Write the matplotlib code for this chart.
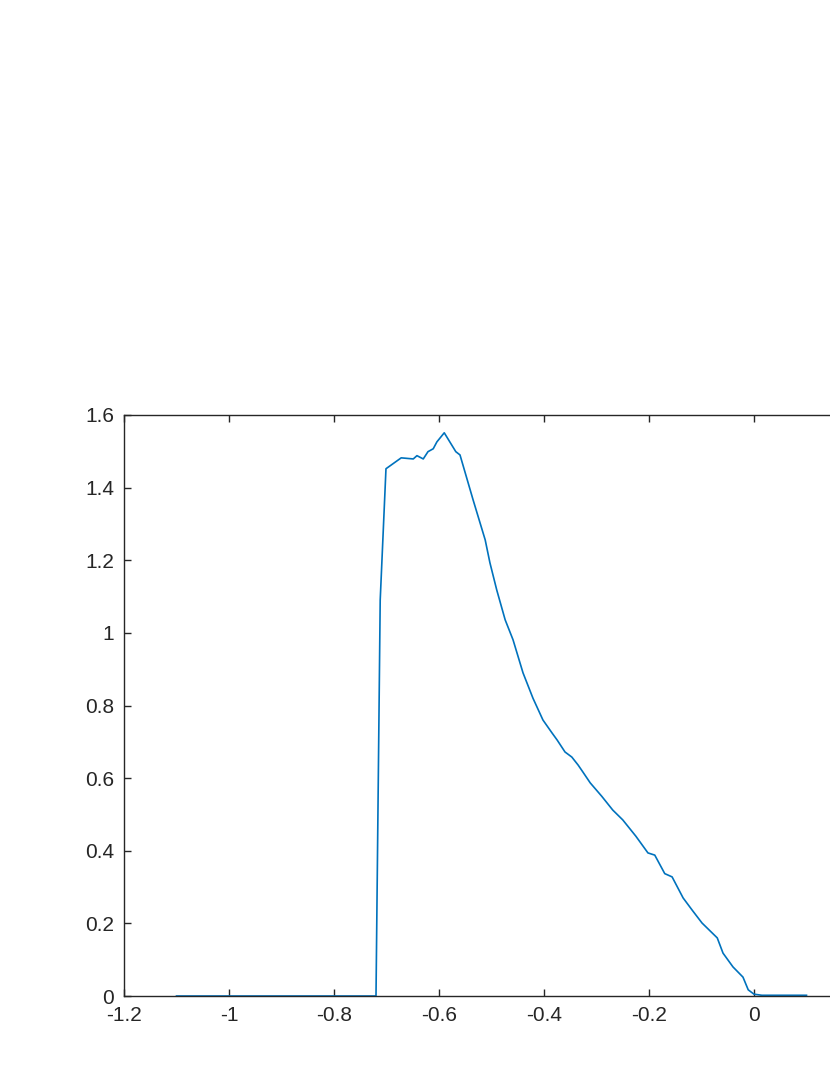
import matplotlib
matplotlib.use("Agg")
import matplotlib.pyplot as plt

plt.rcParams['font.family'] = ['Liberation Sans', 'DejaVu Sans']

x_vals = [-1.1, -0.8, -0.72, -0.712, -0.701, -0.672, -0.649, -0.642, -0.630, -0.621,
          -0.611, -0.604, -0.590, -0.568, -0.560, -0.535, -0.512, -0.503, -0.490,
          -0.474, -0.459, -0.440, -0.421, -0.402, -0.385, -0.375, -0.360, -0.347,
          -0.335, -0.326, -0.312, -0.290, -0.269, -0.250, -0.225, -0.202, -0.189,
          -0.170, -0.156, -0.135, -0.117, -0.099, -0.070, -0.059, -0.040, -0.021,
          -0.011, 0.0, 0.015, 0.1]
y_vals = [0.0, 0.0, 0.0, 1.09, 1.452, 1.482, 1.479, 1.488, 1.479, 1.499,
          1.507, 1.526, 1.551, 1.499, 1.490, 1.366, 1.256, 1.193, 1.118,
          1.036, 0.981, 0.890, 0.820, 0.760, 0.725, 0.705, 0.672, 0.658,
          0.636, 0.617, 0.587, 0.550, 0.512, 0.485, 0.440, 0.394, 0.388,
          0.337, 0.328, 0.270, 0.235, 0.201, 0.160, 0.118, 0.080, 0.052,
          0.017, 0.005, 0.002, 0.002]

x_ticks = [-1.2, -1.0, -0.8, -0.6, -0.4, -0.2, 0.0]
x_tick_labels = ['-1.2', '-1', '-0.8', '-0.6', '-0.4', '-0.2', '0']
y_ticks = [0, 0.2, 0.4, 0.6, 0.8, 1.0, 1.2, 1.4, 1.6]
y_tick_labels = ['0', '0.2', '0.4', '0.6', '0.8', '1', '1.2', '1.4', '1.6']

fig = plt.figure(figsize=(8.3, 10.75), dpi=100)
ax = fig.add_axes([124/830, 1 - 996/1075, 735/830, 581/1075])
ax.plot(x_vals, y_vals, color='#0072BD', lw=1.2)
ax.set_xlim(-1.2, 0.2)
ax.set_ylim(0, 1.6)
ax.set_xticks(x_ticks)
ax.set_xticklabels(x_tick_labels)
ax.set_yticks(y_ticks)
ax.set_yticklabels(y_tick_labels)
for s in ax.spines.values():
    s.set_color('#262626')
    s.set_linewidth(1.0)
ax.tick_params(direction='in', length=5, width=1.0, color='#262626',
               labelcolor='#262626', labelsize=15, top=True, right=True, pad=7)
fig.savefig('out.png', dpi=100)
